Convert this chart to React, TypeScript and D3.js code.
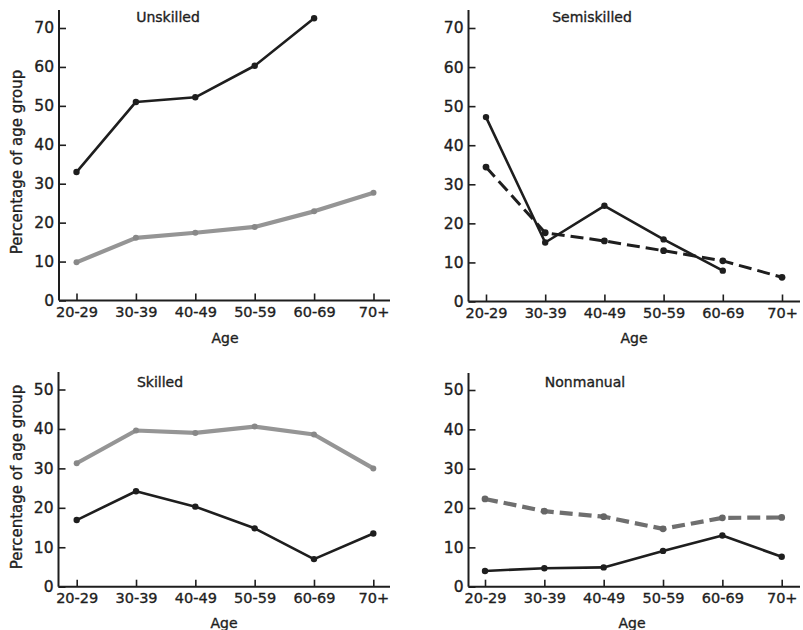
import React, { useEffect, useRef } from "react";
import * as d3 from "d3";

const ageGroups = ["20-29", "30-39", "40-49", "50-59", "60-69", "70+"];

// values (null = no point drawn)
const unskilledBlack = [33, 51, 52.2, 60.3, 72.5, null];
const unskilledGray = [9.8, 16.1, 17.4, 18.9, 22.9, 27.7];
const semiskilledSolid = [47.2, 15.1, 24.5, 15.9, 7.9, null];
const semiskilledDashed = [34.4, 17.6, 15.5, 13, 10.4, 6.2];
const skilledGray = [31.3, 39.6, 39, 40.6, 38.6, 30];
const skilledBlack = [16.9, 24.2, 20.3, 14.8, 7, 13.5];
const nonmanualDashed = [22.3, 19.2, 17.8, 14.7, 17.5, 17.6];
const nonmanualBlack = [4, 4.7, 4.9, 9.1, 13, 7.6];

const topTicks = [0, 10, 20, 30, 40, 50, 60, 70];
const bottomTicks = [0, 10, 20, 30, 40, 50];

const font = "'DejaVu Sans', sans-serif";
const ink = "#1e1e1e";

const panels = [
  {
    title: "Unskilled", titleX: 168, titleY: 22,
    axisX: 59, axisY: 300.5, axisTop: 10, axisRight: 390,
    yMax: 70, yTop: 28, ticks: topTicks, xFirst: 76.5, xLast: 373.5,
    ageX: 225, ageY: 343, yLabel: true, yLabelY: 162,
    series: [
      { values: unskilledBlack, kind: "black" },
      { values: unskilledGray, kind: "gray" },
    ],
  },
  {
    title: "Semiskilled", titleX: 592, titleY: 22,
    axisX: 468.5, axisY: 301.5, axisTop: 10, axisRight: 800,
    yMax: 70, yTop: 28, ticks: topTicks, xFirst: 486, xLast: 782,
    ageX: 634, ageY: 343, yLabel: false, yLabelY: 0,
    series: [
      { values: semiskilledSolid, kind: "black" },
      { values: semiskilledDashed, kind: "blackDash" },
    ],
  },
  {
    title: "Skilled", titleX: 160, titleY: 387,
    axisX: 58.5, axisY: 586.7, axisTop: 372, axisRight: 390,
    yMax: 50, yTop: 389.5, ticks: bottomTicks, xFirst: 76.7, xLast: 373.3,
    ageX: 224, ageY: 628, yLabel: true, yLabelY: 477,
    series: [
      { values: skilledGray, kind: "gray" },
      { values: skilledBlack, kind: "black" },
    ],
  },
  {
    title: "Nonmanual", titleX: 585, titleY: 387,
    axisX: 468.5, axisY: 586.7, axisTop: 373, axisRight: 800,
    yMax: 50, yTop: 390, ticks: bottomTicks, xFirst: 485, xLast: 781.7,
    ageX: 632, ageY: 628, yLabel: false, yLabelY: 0,
    series: [
      { values: nonmanualDashed, kind: "grayDash" },
      { values: nonmanualBlack, kind: "black" },
    ],
  },
];

const styles: Record<string, any> = {
  black: { stroke: ink, width: 2.6, dash: null, dot: ink, r: 3.2 },
  blackDash: { stroke: ink, width: 3, dash: "13 6", dot: ink, r: 3.4 },
  gray: { stroke: "#959595", width: 4.2, dash: null, dot: "#888", r: 3 },
  grayDash: { stroke: "#6f6f6f", width: 4.2, dash: "13 6", dot: "#666", r: 3.4 },
};

// slightly heavier text, like the printed original
const textStyle = (sel: any, size: number) =>
  sel
    .attr("font-family", font)
    .attr("font-size", size)
    .attr("fill", ink)
    .attr("stroke", ink)
    .attr("stroke-width", 0.35);

const App = () => {
  const svgRef = useRef<SVGSVGElement | null>(null);

  useEffect(() => {
    const svg = d3.select(svgRef.current);
    svg.selectAll("*").remove();

    panels.forEach((p) => {
      const g = svg.append("g");

      const x = d3.scalePoint().domain(ageGroups).range([p.xFirst, p.xLast]);
      const y = d3.scaleLinear().domain([0, p.yMax]).range([p.axisY, p.yTop]);

      // y axis, ticks pointing inward
      const yAxis = g
        .append("g")
        .attr("transform", `translate(${p.axisX},0)`)
        .call(
          d3.axisLeft(y).tickValues(p.ticks).tickSize(-7).tickSizeOuter(0).tickPadding(5)
        );
      yAxis.select(".domain").remove();
      yAxis.selectAll("line").attr("stroke", ink).attr("stroke-width", 1.6);
      textStyle(yAxis.selectAll("text"), 15.5);

      const xAxis = g
        .append("g")
        .attr("transform", `translate(0,${p.axisY})`)
        .call(d3.axisBottom(x).tickSize(-7).tickSizeOuter(0).tickPadding(6));
      xAxis.select(".domain").remove();
      xAxis.selectAll("line").attr("stroke", ink).attr("stroke-width", 1.6);
      textStyle(xAxis.selectAll("text"), 14.5);

      // axis lines
      g.append("line")
        .attr("x1", p.axisX).attr("x2", p.axisX)
        .attr("y1", p.axisTop).attr("y2", p.axisY)
        .attr("stroke", ink).attr("stroke-width", 2);
      g.append("line")
        .attr("x1", p.axisX).attr("x2", p.axisRight)
        .attr("y1", p.axisY).attr("y2", p.axisY)
        .attr("stroke", ink).attr("stroke-width", 2);

      textStyle(
        g.append("text").attr("x", p.titleX).attr("y", p.titleY).attr("text-anchor", "middle"),
        14
      ).text(p.title);

      textStyle(
        g.append("text").attr("x", p.ageX).attr("y", p.ageY).attr("text-anchor", "middle"),
        14
      ).text("Age");

      if (p.yLabel) {
        textStyle(
          g.append("text")
            .attr("transform", `translate(22,${p.yLabelY}) rotate(-90)`)
            .attr("text-anchor", "middle"),
          15
        ).text("Percentage of age group");
      }

      p.series.forEach((s) => {
        const st = styles[s.kind];
        const pts = ageGroups
          .map((a, i) => ({ a, v: s.values[i] }))
          .filter((d) => d.v !== null) as { a: string; v: number }[];

        const line = d3
          .line<{ a: string; v: number }>()
          .x((d) => x(d.a) as number)
          .y((d) => y(d.v));

        g.append("path")
          .datum(pts)
          .attr("d", line)
          .attr("fill", "none")
          .attr("stroke", st.stroke)
          .attr("stroke-width", st.width)
          .attr("stroke-linejoin", "round")
          .attr("stroke-dasharray", st.dash);

        g.selectAll(null)
          .data(pts)
          .enter()
          .append("circle")
          .attr("cx", (d) => x(d.a) as number)
          .attr("cy", (d) => y(d.v))
          .attr("r", st.r)
          .attr("fill", st.dot);
      });
    });
  }, []);

  return (
    <div style={{ position: "absolute", left: 0, top: 0, background: "#fff" }}>
      <svg ref={svgRef} width={803} height={630} style={{ display: "block" }} />
    </div>
  );
};

export default App;
